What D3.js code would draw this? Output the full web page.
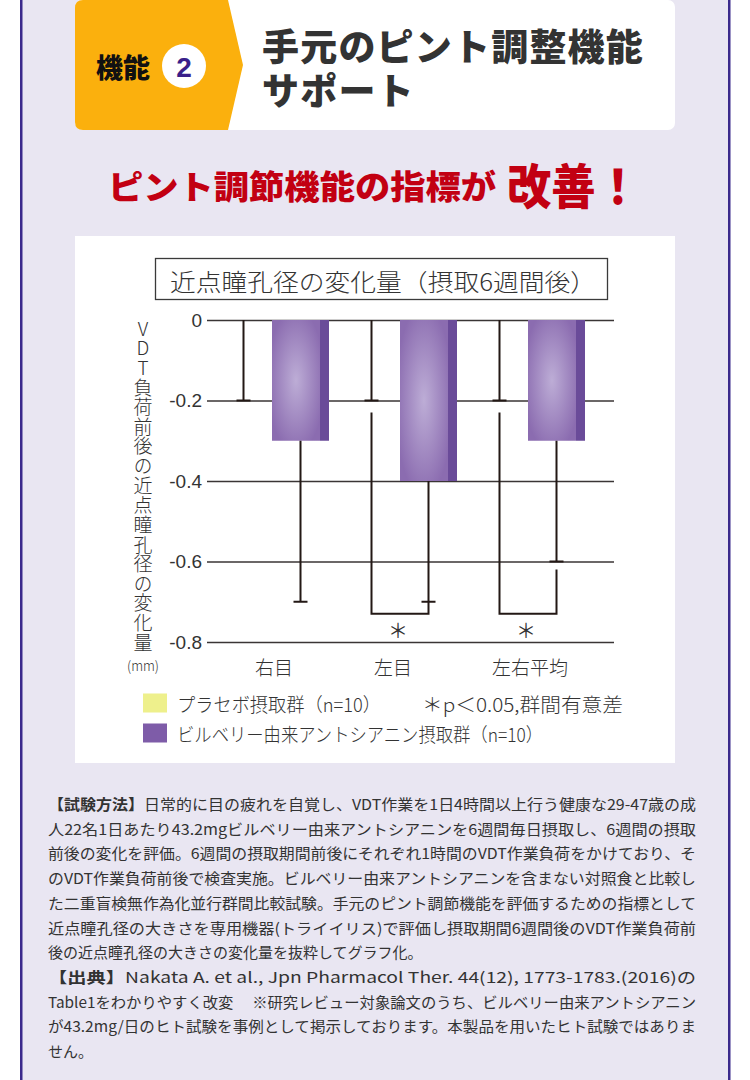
<!DOCTYPE html>
<html><head><meta charset="utf-8">
<script src="https://cdn.jsdelivr.net/npm/d3@7"></script>
<style>html,body{margin:0;padding:0;background:#fff}svg{display:block}
#wrap{position:relative;width:750px;height:1080px}
#htitle{position:absolute;left:262px;top:23px;margin:0;font-family:'Noto Sans CJK JP',sans-serif;font-weight:900;font-size:37px;line-height:44px;letter-spacing:1.2px;color:#333;white-space:pre-line}
</style>
</head><body><div id="wrap"><svg id="c" width="750" height="1080"></svg><div id="htitle"></div></div>
<script>
// ---- data ----
const categories = ["右目", "左目", "左右平均"];
const groups = ["placebo", "bilberry"];
const placeboMean = [0, 0, 0];
const placeboSD = [0.2, 0.2, 0.2];
const bilberryMean = [-0.3, -0.4, -0.3];
const bilberrySD = [0.4, 0.3, 0.3];
const significant = [false, true, true];
const bracketValue = -0.73;
const yTicks = [0, -0.2, -0.4, -0.6, -0.8];
const legendLabels = ["プラセボ摂取群（n=10）", "ビルベリー由来アントシアニン摂取群（n=10）"];
const noteLabel = "＊p＜0.05,群間有意差";
const chartTitle = "近点瞳孔径の変化量（摂取6週間後）";
const yTitle = "VDT負荷前後の近点瞳孔径の変化量";
const yUnit = "(mm)";
const headerLines = ["手元のピント調整機能", "サポート"];
const footLines = [
  [["【試験方法】", true], ["日常的に目の疲れを自覚し、VDT作業を1日4時間以上行う健康な29-47歳の成", false]],
  [["人22名1日あたり43.2mgビルベリー由来アントシアニンを6週間毎日摂取し、6週間の摂取", false]],
  [["前後の変化を評価。6週間の摂取期間前後にそれぞれ1時間のVDT作業負荷をかけており、そ", false]],
  [["のVDT作業負荷前後で検査実施。ビルベリー由来アントシアニンを含まない対照食と比較し", false]],
  [["た二重盲検無作為化並行群間比較試験。手元のピント調節機能を評価するための指標として", false]],
  [["近点瞳孔径の大きさを専用機器(トライイリス)で評価し摂取期間6週間後のVDT作業負荷前", false]],
  [["後の近点瞳孔径の大きさの変化量を抜粋してグラフ化。", false]],
  [["【出典】", true], ["Nakata A. et al., Jpn Pharmacol Ther. 44(12), 1773-1783.(2016)の", false]],
  [["Table1をわかりやすく改変　 ※研究レビュー対象論文のうち、ビルベリー由来アントシアニン", false]],
  [["が43.2mg/日のヒト試験を事例として掲示しております。本製品を用いたヒト試験ではありま", false]],
  [["せん。", false]]
];
const justified = [true, true, true, true, true, true, false, true, true, true, false];

// ---- drawing ----
const svg = d3.select("#c");
const JP = "'Noto Sans CJK JP','Noto Sans',sans-serif";
const ink = "#231815";

// page background + side borders
svg.append("rect").attr("x", 0).attr("y", 0).attr("width", 750).attr("height", 1080).attr("fill", "#fff");
svg.append("rect").attr("x", 21).attr("y", 0).attr("width", 708).attr("height", 1080).attr("fill", "#e9e6f2");
svg.append("rect").attr("x", 20).attr("y", 0).attr("width", 2.5).attr("height", 1080).attr("fill", "#3b2a8c");
svg.append("rect").attr("x", 728).attr("y", 0).attr("width", 2.5).attr("height", 1080).attr("fill", "#3b2a8c");

// header
const hdr = svg.append("g");
hdr.append("rect").attr("x", 75).attr("y", 0).attr("width", 600).attr("height", 130).attr("rx", 7).attr("fill", "#fff");
hdr.append("path").attr("d", "M83,0 H228 L243,65 L228,130 H83 Q75,130 75,122 V8 Q75,0 83,0 Z").attr("fill", "#fbb00d");
hdr.append("text").attr("x", 123).attr("y", 66).attr("text-anchor", "middle").attr("dominant-baseline", "central")
  .attr("font-family", JP).attr("font-weight", 900).attr("font-size", 27).attr("fill", "#111").text("機能");
hdr.append("circle").attr("cx", 184).attr("cy", 66).attr("r", 22).attr("fill", "#fff");
hdr.append("text").attr("x", 184).attr("y", 67).attr("text-anchor", "middle").attr("dominant-baseline", "central")
  .attr("font-family", "'Liberation Sans',Arial,sans-serif").attr("font-weight", 700).attr("font-size", 28).attr("fill", "#3a1f8a").text("2");
d3.select("#htitle").text(headerLines.join("\n"));

// red headline
svg.append("text").attr("x", 108).attr("y", 185).attr("dominant-baseline", "central")
  .attr("font-family", JP).attr("font-weight", 900).attr("font-size", 33).attr("fill", "#c20012")
  .attr("textLength", 388).attr("lengthAdjust", "spacingAndGlyphs").text("ピント調節機能の指標が");
svg.append("text").attr("x", 507).attr("y", 183).attr("dominant-baseline", "central")
  .attr("font-family", JP).attr("font-weight", 900).attr("font-size", 48).attr("fill", "#c20012")
  .attr("textLength", 133).attr("lengthAdjust", "spacingAndGlyphs").text("改善！");

// chart panel
svg.append("rect").attr("x", 75).attr("y", 236).attr("width", 600).attr("height", 527).attr("fill", "#fff");

// title box
svg.append("rect").attr("x", 155.5).attr("y", 258.5).attr("width", 452).attr("height", 41)
  .attr("fill", "#fff").attr("stroke", "#3a3a3a").attr("stroke-width", 1.3);
svg.append("text").attr("x", 170).attr("y", 280).attr("dominant-baseline", "central")
  .attr("font-family", JP).attr("font-weight", 300).attr("font-size", 24).attr("fill", "#333")
  .attr("textLength", 426).attr("lengthAdjust", "spacingAndGlyphs").text(chartTitle);

// scales
const y = d3.scaleLinear().domain([0, -0.8]).range([320, 642]);
const x = d3.scaleBand().domain(categories).range([208, 592]).padding(0);
const xs = d3.scaleBand().domain(groups).range([-57, 57]).padding(0);

// defs: bar gradient
const defs = svg.append("defs");
const rg = defs.append("radialGradient").attr("id", "barGrad").attr("cx", "50%").attr("cy", "50%").attr("r", "60%");
rg.append("stop").attr("offset", "0%").attr("stop-color", "#bdadd6");
rg.append("stop").attr("offset", "100%").attr("stop-color", "#8b6cb0");

// gridlines / axis
const gridX0 = 207, gridX1 = 614;
const axis = d3.axisLeft(y).tickValues(yTicks).tickSize(-(gridX1 - gridX0)).tickPadding(5)
  .tickFormat(d => d === 0 ? "0" : d.toFixed(1));
const ag = svg.append("g").attr("transform", `translate(${gridX0},0)`).call(axis);
ag.select(".domain").remove();
ag.selectAll(".tick line").attr("stroke", "#3a3535").attr("stroke-width", 1.6);
ag.selectAll(".tick text").attr("font-family", "'Liberation Sans',Arial,sans-serif").attr("font-size", 19)
  .attr("fill", "#333").attr("dy", "0.34em");

// bars
const sideW = 9;
const bb = xs.bandwidth();
const bars = svg.append("g");
categories.forEach((c, i) => {
  const x0 = x(c) + x.bandwidth() / 2;
  const yp0 = y(Math.max(0, placeboMean[i])), yp1 = y(Math.min(0, placeboMean[i]));
  bars.append("rect").attr("x", x0 + xs("placebo")).attr("y", yp0).attr("width", bb).attr("height", yp1 - yp0).attr("fill", "#eef08c");
  const y0 = y(Math.max(0, bilberryMean[i])), y1 = y(Math.min(0, bilberryMean[i]));
  const bx = x0 + xs("bilberry");
  bars.append("rect").attr("x", bx).attr("y", y0).attr("width", bb - sideW).attr("height", y1 - y0).attr("fill", "url(#barGrad)");
  bars.append("rect").attr("x", bx + bb - sideW).attr("y", y0).attr("width", sideW).attr("height", y1 - y0).attr("fill", "#6a4b99");
});

// error bars
const eg = svg.append("g").attr("stroke", ink).attr("stroke-width", 2).attr("fill", "none");
const capW = 7;
categories.forEach((c, i) => {
  const x0 = x(c) + x.bandwidth() / 2;
  const px = x0 + xs("placebo") + bb / 2;
  const bx = x0 + xs("bilberry") + bb / 2;
  const pEnd = placeboMean[i] - placeboSD[i];
  const bEnd = bilberryMean[i] - bilberrySD[i];
  eg.append("path").attr("d", `M${px},${y(placeboMean[i])}V${y(pEnd)}M${px - capW},${y(pEnd)}H${px + capW}`);
  eg.append("path").attr("d", `M${bx},${y(bilberryMean[i])}V${y(bEnd)}M${bx - capW},${y(bEnd)}H${bx + capW}`);
  if (significant[i]) {
    const yb = y(bracketValue);
    const pStart = y(pEnd) + 12;
    const bStart = (yb - y(bEnd) < 20) ? y(bEnd) : y(bEnd) + 8;
    eg.append("path").attr("d", `M${px},${pStart}V${yb}H${bx}V${bStart}`);
    svg.append("text").attr("x", (px + bx) / 2 - 2).attr("y", yb + 16).attr("text-anchor", "middle")
      .attr("dominant-baseline", "central").attr("font-family", JP).attr("font-size", 20).attr("fill", "#333").text("＊");
  }
});

// category labels
svg.append("g").selectAll("text").data(categories).join("text")
  .attr("x", d => x(d) + x.bandwidth() / 2 + (d === "左目" ? -7 : 2)).attr("y", 666)
  .attr("text-anchor", "middle").attr("dominant-baseline", "central")
  .attr("font-family", JP).attr("font-weight", 300).attr("font-size", 19).attr("fill", "#333").text(d => d);

// y title: one vertical text
svg.append("text").attr("x", 143).attr("y", 319)
  .style("writing-mode", "vertical-rl").style("text-orientation", "upright")
  .attr("font-family", JP).attr("font-weight", 300).attr("font-size", 19).attr("fill", "#333")
  .attr("textLength", 333).attr("lengthAdjust", "spacing").text(yTitle);
svg.append("text").attr("x", 143).attr("y", 665).attr("text-anchor", "middle").attr("dominant-baseline", "central")
  .attr("font-family", JP).attr("font-weight", 300).attr("fill", "#333")
  .attr("font-size", 14).attr("textLength", 32).attr("lengthAdjust", "spacingAndGlyphs").text(yUnit);

// legend
const legColors = ["#eef08c", "#7e5ca8"];
const lg = svg.append("g");
legendLabels.forEach((l, i) => {
  const ly = 703 + i * 30;
  lg.append("rect").attr("x", 143).attr("y", ly - 9.5).attr("width", 24).attr("height", 19).attr("fill", legColors[i]);
  lg.append("text").attr("x", 177).attr("y", ly).attr("dominant-baseline", "central")
    .attr("font-family", JP).attr("font-weight", 300).attr("font-size", 19).attr("fill", "#333")
    .attr("textLength", i === 0 ? 204 : 366).attr("lengthAdjust", "spacingAndGlyphs").text(l);
});
lg.append("text").attr("x", 422).attr("y", 703).attr("dominant-baseline", "central")
  .attr("font-family", JP).attr("font-weight", 300).attr("font-size", 19).attr("fill", "#333")
  .attr("textLength", 201).attr("lengthAdjust", "spacingAndGlyphs").text(noteLabel);

// footnote
const fg = svg.append("g").attr("font-family", JP).attr("font-size", 15).attr("fill", "#333");
footLines.forEach((parts, i) => {
  const t = fg.append("text").attr("x", 48).attr("y", 803 + i * 24.7).attr("dominant-baseline", "central");
  if (justified[i]) t.attr("textLength", 648).attr("lengthAdjust", "spacingAndGlyphs");
  parts.forEach(([s, b]) => t.append("tspan").attr("font-weight", b ? 700 : 400).text(s));
});
</script></body></html>
